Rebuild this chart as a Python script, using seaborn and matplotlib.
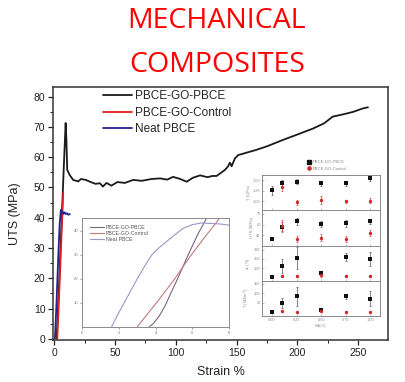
import numpy as np
import pandas as pd
import matplotlib
matplotlib.use("Agg")
import matplotlib.pyplot as plt
from matplotlib.ticker import MultipleLocator
from matplotlib.lines import Line2D
import seaborn as sns

# ---------------- main stress-strain curves ----------------
strain_gp = [2, 4, 6, 8, 9.4, 10.0, 10.7, 12.9, 15.6, 19.7, 22, 26, 30, 34, 37.6, 40, 43, 47,
             52, 58, 65, 72, 80, 87, 93, 97.7, 103, 109, 114, 120, 126, 130, 133.5, 137,
             140.4, 143, 144.5, 145.9, 148.6, 151.3, 158.2, 166, 175, 188, 200, 213, 222,
             229, 238, 246, 253.6, 258]
uts_gp = [0, 18, 38, 58, 71.3, 66, 55.8, 54.0, 52.5, 52.0, 52.8, 52.5, 51.8, 51.2, 51.4, 50.3,
          51.5, 50.6, 51.8, 51.5, 52.5, 52.2, 52.8, 53.0, 52.6, 53.5, 52.9, 51.9, 53.2, 54.0,
          53.4, 53.8, 53.8, 54.8, 55.8, 57.0, 58.2, 57.0, 59.6, 60.7, 61.5, 62.4, 63.6, 65.7,
          67.5, 69.5, 71.2, 73.4, 74.2, 75.0, 76.1, 76.5]

strain_ctrl = [2.5, 3.5, 4.5, 5.5, 6.5, 7.4]
uts_ctrl = [0, 9, 19, 29, 39, 48.3]

strain_neat = [0.6, 2.0, 3.5, 4.5, 5.5, 6.5, 7.5, 8.5, 9.5, 10.5, 11.5, 12.9]
uts_neat = [0, 13, 29, 38, 42.6, 42.2, 41.3, 41.8, 41.2, 41.5, 41.0, 41.2]

# ---------------- low-strain detail (inset) ----------------
lo_strain_gp = [3.65, 3.9, 4.2, 4.5, 4.8, 5.2, 5.6, 5.9, 6.3, 6.8]
lo_stress_gp = [0, 1.5, 4.5, 8.5, 13.5, 20, 27, 32, 38.5, 45.5]
lo_strain_ctrl = [3.0, 4.0, 5.0, 5.9, 6.7, 7.45]
lo_stress_ctrl = [0, 9.5, 19.5, 29.5, 37.5, 44.8]
lo_strain_neat = [1.6, 2.0, 2.5, 3.0, 3.5, 3.8, 4.2, 4.6, 5.0, 5.5, 6.0, 6.5, 7.0, 7.5, 8.0]
lo_stress_neat = [0, 6, 13, 20, 26.5, 30, 33, 35.5, 38, 41, 42.5, 43.2, 43.0, 42.8, 42.3]

# ---------------- properties vs GO content ----------------
wt = [0.00, 0.10, 0.25, 0.50, 0.75, 1.00]
wt_ctrl = [0.10, 0.25, 0.50, 0.75, 1.00]

mod_gp = [1.26, 1.42, 1.46, 1.42, 1.42, 1.54]
mod_gp_err = [0.10, 0.09, 0.06, 0.07, 0.07, 0.06]
mod_ctrl = [1.34, 0.98, 1.03, 1.00, 1.01]
mod_ctrl_err = [0.09, 0.06, 0.09, 0.04, 0.06]

uts_p_gp = [40.5, 57, 64.5, 60.5, 62, 64.5]
uts_p_gp_err = [2, 6, 5, 4, 5, 4]
uts_p_ctrl = [58, 40.5, 41.8, 40.5, 48.6]
uts_p_ctrl_err = [8, 4, 5, 4, 4]

elong_gp = [52, 113, 156, 72, 163, 150]
elong_gp_err = [5, 38, 60, 10, 22, 40]
elong_ctrl = [57, 55, 61, 55, 55]
elong_ctrl_err = [5, 4, 10, 4, 4]

tough_gp = [2, 48, 83, 12, 83, 71]
tough_gp_err = [4, 28, 50, 8, 15, 40]
tough_ctrl = [3, 2, 4, 0, 2]
tough_ctrl_err = [3, 3, 5, 3, 3]

series_names = ["PBCE-GO-PBCE", "PBCE-GO-Control", "Neat PBCE"]
main_colors = ["#1a1a1a", "#e02020", "#23238f"]

sns.set_theme(style="ticks")
plt.rcParams["font.family"] = ["Liberation Sans", "DejaVu Sans"]

W, H = 405, 382
fig = plt.figure(figsize=(W / 100, H / 100), dpi=100)


def box(x0, y0, x1, y1):
    return [x0 / W, 1 - y1 / H, (x1 - x0) / W, (y1 - y0) / H]


# title
title_kw = dict(ha="center", va="baseline", color="#ff0000", fontsize=20.5,
                family=["Open Sans", "DejaVu Sans"])
fig.text(217 / W, 1 - 28.0 / H, "MECHANICAL", **title_kw)
fig.text(217 / W, 1 - 71.5 / H, "COMPOSITES", **title_kw)

# ---------------- main axes ----------------
ax = fig.add_axes(box(53, 87, 388, 340))
main_df = pd.concat([
    pd.DataFrame({"strain": strain_gp, "uts": uts_gp, "sample": series_names[0]}),
    pd.DataFrame({"strain": strain_ctrl, "uts": uts_ctrl, "sample": series_names[1]}),
    pd.DataFrame({"strain": strain_neat, "uts": uts_neat, "sample": series_names[2]}),
])
sns.lineplot(data=main_df, x="strain", y="uts", hue="sample", palette=main_colors,
             hue_order=series_names, sort=False, estimator=None, lw=1.3, ax=ax,
             legend=False)
ax.set_xlim(-1, 274.5)
ax.set_ylim(-0.4, 83.2)
ax.xaxis.set_major_locator(MultipleLocator(50))
ax.xaxis.set_minor_locator(MultipleLocator(25))
ax.yaxis.set_major_locator(MultipleLocator(10))
ax.yaxis.set_minor_locator(MultipleLocator(5))
ax.tick_params(axis="both", which="major", direction="out", length=3.5, width=0.9,
               labelsize=7.5, colors="#222222", pad=2)
ax.tick_params(axis="both", which="minor", direction="out", length=2, width=0.7,
               colors="#222222")
for s in ax.spines.values():
    s.set_color("#333333")
    s.set_linewidth(1.1)
ax.set_xlabel("Strain %", fontsize=9, color="#222222", labelpad=6)
ax.set_ylabel("UTS (MPa)", fontsize=9, color="#222222", labelpad=9)

handles = [Line2D([], [], color=c, lw=1.3) for c in main_colors]
ax.legend(handles, series_names, loc="upper left", bbox_to_anchor=(0.136, 1.005),
          frameon=False, fontsize=8.5, handlelength=2.4, handletextpad=0.25,
          labelspacing=0.38, borderaxespad=0)

# ---------------- low-strain inset ----------------
ax1 = fig.add_axes(box(82.3, 217.7, 229, 326.7))
ax1.set_facecolor("white")
lo_colors = ["#7d6484", "#c47a7a", "#9a98c6"]
lo_df = pd.concat([
    pd.DataFrame({"strain": lo_strain_gp, "stress": lo_stress_gp, "sample": series_names[0]}),
    pd.DataFrame({"strain": lo_strain_ctrl, "stress": lo_stress_ctrl, "sample": series_names[1]}),
    pd.DataFrame({"strain": lo_strain_neat, "stress": lo_stress_neat, "sample": series_names[2]}),
])
sns.lineplot(data=lo_df, x="strain", y="stress", hue="sample", palette=lo_colors,
             hue_order=series_names, sort=False, estimator=None, lw=0.8, ax=ax1,
             legend=False)
ax1.set_xlim(0, 8)
ax1.set_ylim(0, 45.4)
ax1.set_xticks([0, 2, 4, 6, 8])
ax1.set_yticks([10, 20, 30, 40])
ax1.tick_params(axis="both", direction="out", length=1.5, width=0.5, labelsize=3,
                colors="#777777", pad=1.5)
ax1.set_xlabel("")
ax1.set_ylabel("")
for s in ax1.spines.values():
    s.set_color("#8a8a8a")
    s.set_linewidth(0.7)
lo_handles = [Line2D([], [], color=c, lw=0.8) for c in lo_colors]
ax1.legend(lo_handles, series_names, loc="upper left", bbox_to_anchor=(0.02, 0.98),
           frameon=False, fontsize=3.8, handlelength=2.6, handletextpad=0.4,
           labelspacing=0.25, labelcolor="#555555")

# ---------------- property panels ----------------
panel_top, panel_bot = 175, 316
edges = np.linspace(panel_top, panel_bot, 5)
panels = [
    ("Y (GPa)", mod_gp, mod_gp_err, mod_ctrl, mod_ctrl_err, (0.79, 1.62), [1.00, 1.25, 1.50]),
    ("UTS (MPa)", uts_p_gp, uts_p_gp_err, uts_p_ctrl, uts_p_ctrl_err, (31, 80), [45, 60, 75]),
    ("ε$_b$ (%)", elong_gp, elong_gp_err, elong_ctrl, elong_ctrl_err, (30, 224), [100, 150, 200]),
    ("T (MJ/m$^3$)", tough_gp, tough_gp_err, tough_ctrl, tough_ctrl_err, (-22, 167), [50, 100, 150]),
]
prop_axes = []
for i, (lab, gp, gpe, ct, cte, lim, ticks) in enumerate(panels):
    pa = fig.add_axes(box(262.3, edges[i], 380, edges[i + 1]))
    pa.errorbar(wt, gp, yerr=gpe, fmt="none", ecolor="#555555", elinewidth=0.5,
                capsize=0.8, capthick=0.5, zorder=2)
    pa.errorbar(wt_ctrl, ct, yerr=cte, fmt="none", ecolor="#d04848", elinewidth=0.5,
                capsize=0.8, capthick=0.5, zorder=2)
    sns.scatterplot(x=wt, y=gp, marker="s", color="#111111", s=6, linewidth=0,
                    ax=pa, zorder=3)
    sns.scatterplot(x=wt_ctrl, y=ct, marker="o", color="#d02a2a", s=6, linewidth=0,
                    ax=pa, zorder=4)
    pa.set_xlim(-0.1, 1.1)
    pa.set_ylim(*lim)
    pa.set_yticks(ticks)
    pa.set_yticklabels([f"{t:.2f}" if isinstance(t, float) else str(t) for t in ticks])
    pa.set_xticks([0, 0.25, 0.5, 0.75, 1.0])
    pa.tick_params(axis="both", direction="in", length=1.3, width=0.4, labelsize=2.8,
                   colors="#888888", pad=1.2)
    pa.tick_params(axis="x", labelbottom=(i == 3))
    pa.set_ylabel(lab, fontsize=3, color="#888888", labelpad=1.5)
    pa.set_xlabel("")
    for s in pa.spines.values():
        s.set_color("#777777")
        s.set_linewidth(0.6)
    prop_axes.append(pa)

prop_axes[-1].set_xticklabels(["0.00", "0.25", "0.50", "0.75", "1.00"])
prop_axes[-1].set_xlabel("Wt(%)", fontsize=3, color="#888888", labelpad=2)

prop_handles = [
    Line2D([], [], ls="none", marker="s", ms=2.3, color="#111111"),
    Line2D([], [], ls="none", marker="o", ms=2.3, color="#d02a2a"),
]
fig.legend(prop_handles, ["PBCE-GO-PBCE", "PBCE-GO-Control"], loc="center left",
           bbox_to_anchor=(303 / W, 1 - 165.5 / H), frameon=False, fontsize=3,
           handlelength=1.0, handletextpad=0.5, labelspacing=0.55, labelcolor="#888888")

fig.savefig("out.png", dpi=100)
